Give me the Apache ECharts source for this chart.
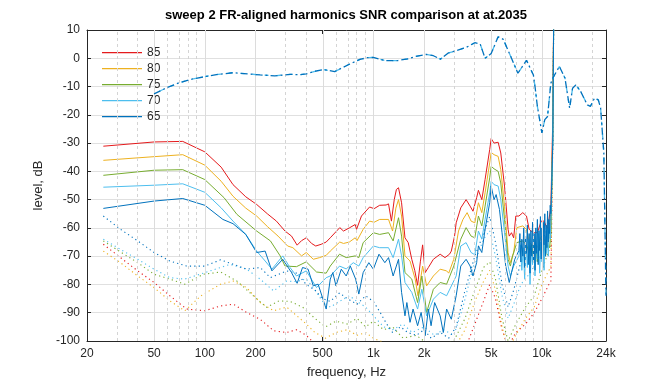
<!DOCTYPE html>
<html>
<head>
<meta charset="utf-8">
<script src="https://cdn.jsdelivr.net/npm/echarts@6/dist/echarts.min.js"></script>
<style>html,body{margin:0;padding:0;background:#fff}#c{width:672px;height:384px}</style>
</head>
<body>
<div id="c"></div>
<script>
// ---------- data (frequency in Hz, level in dB) ----------
const legendNames = ['85', '80', '75', '70', '65'];
const tickFreqs = [20, 50, 100, 200, 500, 1000, 2000, 5000, 10000, 24000];
const tickLabels = ['20', '50', '100', '200', '500', '1k', '2k', '5k', '10k', '24k'];
const majorGridFreqs = [50, 100, 200, 500, 1000, 2000, 5000, 10000];
const minorGridFreqs = [30, 40, 60, 70, 80, 90, 300, 400, 600, 700, 800, 900, 3000, 4000, 6000, 7000, 8000, 9000, 20000];

// frequency response (dash-dot)
const fr = [[50,-12.6],[60,-10.3],[71,-8.6],[85,-7.3],[100,-6.5],[120,-5.7],[147,-5.1],[180,-5.5],[213,-5.9],[260,-6.2],[320,-5.7],[366,-5.8],[400,-5.5],[450,-4.6],[504,-4.0],[590,-4.7],[710,-2.3],[832,-0.4],[920,0.2],[1000,0.3],[1080,-0.3],[1180,-0.8],[1400,-0.8],[1600,-0.2],[1770,0.6],[2070,1.4],[2270,0.9],[2500,-0.3],[2770,1.8],[3300,3.2],[3570,3.9],[4000,5.5],[4300,5.1],[4600,0],[5000,1.7],[5500,7.6],[5900,6.7],[6600,0],[7200,-5.3],[8100,-0.7],[8900,-5.9],[9100,-10],[9400,-17],[10000,-26.4],[10400,-21.7],[10800,-20.6],[11300,-8.8],[11600,-7],[12700,-2.9],[13700,-7],[14600,-17.6],[15200,-10.6],[15900,-9.4],[17000,-11.8],[18600,-16.5],[19400,-17],[20500,-14.1],[21600,-14.7],[22300,-17.6],[23300,-33.5],[24000,-84]];

// harmonics (solid)
const h85 = [[25,-31.1],[50,-29.6],[74,-29.4],[100,-33.1],[125,-38.5],[147,-44.7],[175,-49],[203,-51.7],[235,-55],[266,-57.6],[299,-61.1],[327,-62.9],[353,-66.1],[375,-64.5],[400,-63.5],[430,-65.5],[455,-66.4],[490,-65.8],[525,-65],[555,-63.5],[632,-59.9],[665,-61.1],[720,-60],[780,-58.8],[795,-60.5],[850,-55.8],[950,-52.6],[1010,-53.2],[1090,-52],[1190,-51.9],[1230,-51.5],[1280,-57.6],[1330,-50],[1370,-46.4],[1410,-45.8],[1470,-51.1],[1540,-63.5],[1610,-65.2],[1690,-71.1],[1760,-75],[1830,-80.3],[1900,-72],[1960,-66],[2030,-75.8],[2120,-74],[2270,-71.1],[2490,-69.3],[2660,-70.5],[2830,-69.3],[2900,-68.2],[3030,-63],[3100,-58.2],[3300,-52.9],[3550,-50],[3750,-52.3],[3900,-54.1],[4100,-49.3],[4200,-46.7],[4400,-50],[4600,-42.9],[4900,-32.3],[5000,-28.4],[5200,-30],[5500,-29.7],[5700,-33.5],[6000,-45.2],[6300,-60.5],[6400,-62.9],[6600,-61.7],[6800,-63.5],[7000,-55.8],[7300,-55.8],[7700,-54.6],[7900,-54.1],[8100,-55.8],[8400,-60.5],[8900,-61.7],[9400,-61.7],[9900,-57.6],[10300,-57.6],[10800,-60.5],[11300,-52.3],[11600,-21.7],[11800,30]];
const h80 = [[25,-36.1],[50,-34.8],[74,-34.1],[100,-37.8],[125,-43.5],[147,-48.8],[175,-53],[203,-55.8],[235,-59.5],[272,-62.9],[310,-66.4],[333,-67],[375,-69.9],[400,-68.7],[440,-71.1],[480,-70.5],[525,-69.7],[555,-68.2],[632,-65],[665,-65.5],[720,-65],[780,-63.5],[800,-64.5],[870,-60.5],[950,-57.6],[1010,-58],[1090,-57],[1230,-57],[1300,-61.1],[1360,-53],[1410,-50],[1470,-55.8],[1540,-69.9],[1650,-71.7],[1770,-78.1],[1840,-84],[1960,-73.5],[2070,-80.5],[2270,-77],[2490,-74.6],[2720,-75.2],[2800,-76],[3000,-71.1],[3200,-61.1],[3400,-57],[3600,-54.6],[3800,-57.6],[4000,-58.2],[4200,-51.1],[4400,-54.6],[4600,-47.6],[4900,-37],[5000,-33.3],[5200,-34.1],[5500,-34.7],[5700,-39.4],[6000,-52.3],[6300,-68.7],[6500,-72.3],[6800,-68.7],[7100,-59.9],[7700,-59.3],[8100,-60.5],[8400,-65.2],[8900,-66.4],[9400,-67],[9900,-63],[10300,-64],[10800,-66],[11300,-60],[11600,-25],[11800,30]];
const h75 = [[25,-41.4],[50,-39.6],[74,-39.4],[100,-42.9],[130,-49.3],[155,-55.2],[203,-61.1],[245,-64.6],[280,-69.9],[299,-73.5],[350,-73.7],[400,-72],[460,-75.6],[525,-76],[555,-73.5],[630,-69.3],[690,-70.5],[780,-69.9],[820,-70.5],[870,-65.2],[1000,-61.7],[1090,-62.3],[1230,-61.7],[1310,-64.6],[1410,-56.4],[1470,-62.9],[1540,-75.8],[1690,-78.1],[1830,-86.4],[1940,-77],[2070,-89.9],[2270,-81.7],[2490,-79.3],[2720,-79.9],[3000,-73.5],[3300,-64],[3550,-59.9],[3800,-62.9],[4000,-63.5],[4200,-55.8],[4400,-59.3],[4600,-52.3],[4900,-42.3],[5000,-38.2],[5200,-39.1],[5500,-40],[5700,-44.1],[6000,-57],[6300,-71.1],[6500,-73.5],[6700,-69.9],[7100,-65.2],[7700,-64.6],[8100,-66],[8400,-68.7],[8700,-66],[8900,-71],[9200,-67],[9400,-72],[9700,-66],[9900,-69],[10200,-65],[10500,-70],[10800,-66],[11100,-67],[11300,-62],[11600,-28],[11800,30]];
const h70 = [[25,-45.6],[50,-44.9],[74,-44.4],[100,-47.4],[125,-52.9],[147,-57.6],[175,-62.3],[203,-68.2],[228,-71.7],[250,-74.6],[290,-69.9],[320,-74],[350,-77],[400,-75.2],[460,-81.1],[525,-77.6],[555,-77],[630,-73.5],[690,-74.5],[760,-72.3],[820,-73.5],[870,-70.5],[1000,-66.4],[1090,-67],[1230,-67],[1310,-70.5],[1410,-64],[1470,-69.9],[1540,-79.3],[1690,-82.8],[1830,-88.7],[1940,-81.7],[2070,-91.1],[2270,-85.2],[2490,-82.8],[2720,-84],[3100,-77],[3300,-66.4],[3550,-65.2],[3800,-68.7],[4000,-69.5],[4200,-61.1],[4400,-64],[4600,-57],[4900,-47.6],[5000,-43.5],[5200,-44.7],[5500,-45.2],[5700,-50],[6000,-61.7],[6300,-73.5],[6500,-77],[6800,-73.5],[7300,-70],[7450,-66],[7600,-75],[7750,-67],[7900,-78],[8050,-66],[8200,-74],[8350,-64],[8500,-80],[8650,-68],[8800,-73],[8950,-63],[9100,-77],[9250,-66],[9400,-71],[9550,-62],[9700,-76],[9850,-65],[10000,-72],[10150,-61],[10300,-75],[10450,-63],[10600,-69],[10750,-60],[10900,-70],[11050,-60],[11200,-64],[11300,-58],[11600,-30],[11800,30]];
const h65 = [[25,-53.1],[50,-50.5],[74,-49.6],[100,-52],[128,-57],[147,-58.5],[175,-62.3],[203,-68.7],[228,-68.2],[250,-75.2],[290,-71.1],[327,-75.8],[353,-79.6],[380,-74],[410,-74.6],[440,-80.5],[470,-79.9],[525,-88.7],[555,-78.1],[575,-75.8],[600,-80.5],[645,-74.6],[690,-77],[730,-73.5],[785,-78.1],[820,-83.4],[870,-75.8],[940,-72.3],[1000,-74.6],[1080,-69.3],[1170,-72.3],[1230,-70.5],[1310,-77],[1410,-71.1],[1470,-82.8],[1540,-91.1],[1580,-86.4],[1650,-93.4],[1720,-88.7],[1830,-94.6],[1920,-89.9],[2030,-98.1],[2120,-88.7],[2200,-94.6],[2310,-86.4],[2490,-91.1],[2600,-97],[2720,-88.7],[2900,-92.3],[3100,-84],[3300,-73.5],[3550,-71.1],[3750,-73.5],[3900,-77],[4100,-72.3],[4200,-66.4],[4400,-68.7],[4600,-60.5],[4900,-51.1],[5000,-45.2],[5200,-50],[5350,-48.2],[5600,-53.5],[5800,-61.7],[6100,-73.5],[6400,-79.3],[6600,-75.8],[6900,-71.1],[7300,-68],[7400,-62],[7500,-72],[7600,-64],[7700,-70],[7800,-60],[7900,-74],[8000,-63],[8100,-69],[8200,-59],[8300,-73],[8400,-62],[8500,-76],[8600,-61],[8700,-70],[8800,-58],[8900,-72],[9000,-62],[9100,-75],[9200,-60],[9300,-69],[9400,-57],[9500,-73],[9600,-61],[9700,-68],[9800,-56],[9900,-71],[10000,-60],[10100,-74],[10200,-58],[10300,-66],[10400,-55],[10500,-70],[10600,-59],[10700,-67],[10800,-54],[10900,-65],[11000,-57],[11100,-62],[11200,-52],[11300,-55],[11600,-30],[11800,30]];

// noise floors (dotted)
const n85 = [[25,-65.8],[31.6,-70.5],[40,-75.2],[50,-79.3],[62,-84],[78,-88.7],[100,-89.3],[124,-87.6],[148,-87],[177,-89.9],[213,-92.3],[256,-96.4],[306,-97],[350,-96],[400,-98],[450,-101],[520,-103],[600,-101],[700,-103],[800,-100],[900,-102],[1000,-104],[1500,-105],[2000,-104],[3000,-103],[3600,-101],[4000,-94],[4500,-86],[4900,-80],[5300,-85],[5800,-96],[6300,-102],[7000,-97],[8000,-94],[9000,-90],[10000,-85],[11000,-80],[11300,-79],[11600,-30],[11800,30]];
const n80 = [[25,-68.2],[31.6,-72.3],[40,-77],[50,-81.1],[62,-85.8],[76,-89.3],[95,-84],[124,-79.9],[148,-78.8],[177,-81.1],[213,-86.4],[256,-89.3],[306,-88],[350,-91],[400,-94],[450,-97],[520,-99],[600,-97],[700,-96],[800,-98],[900,-97],[1000,-99],[1200,-101],[1500,-103],[2000,-104],[2500,-102],[3000,-103],[3500,-96],[4000,-86],[4500,-79],[4900,-75],[5300,-82],[5800,-95],[6300,-103],[7000,-98],[8000,-92],[9000,-88],[10000,-80],[11000,-75],[11300,-74],[11600,-30],[11800,30]];
const n75 = [[25,-64.6],[31.6,-68.5],[40,-72.3],[50,-76.4],[62,-78.1],[76,-79.9],[98,-76.4],[124,-75.6],[155,-78.8],[194,-84],[233,-88.1],[275,-85.8],[320,-86],[380,-88],[450,-92],[520,-95],[600,-93],[700,-94],[800,-92],[900,-95],[1000,-93],[1150,-96],[1300,-95],[1500,-99],[1800,-98],[2100,-101],[2500,-102],[3000,-100],[3500,-92],[4000,-82],[4500,-74],[4900,-72],[5300,-78],[5800,-92],[6300,-100],[7000,-94],[8000,-88],[9000,-84],[10000,-75],[11000,-68],[11300,-66],[11600,-30],[11800,30]];
const n70 = [[25,-64],[31.6,-67.6],[40,-71.1],[50,-74.6],[62,-77.6],[76,-78.1],[98,-76],[141,-72.9],[177,-74.6],[213,-78.1],[256,-82.3],[306,-78.8],[350,-79],[400,-78],[450,-82],[500,-86],[555,-88],[630,-86],[720,-84],[800,-86],[900,-88],[1000,-91],[1150,-95],[1300,-96],[1500,-94],[1700,-97],[2000,-95],[2300,-98],[2600,-96],[3000,-98],[3400,-88],[3900,-74],[4500,-64],[4900,-61],[5300,-70],[5800,-84],[6300,-92],[6900,-86],[7500,-80],[8500,-76],[9500,-71],[10500,-66],[11300,-62],[11600,-30],[11800,30]];
const n65 = [[25,-55.8],[31.6,-60.5],[40,-64.6],[50,-68.7],[62,-71.7],[78,-73.5],[100,-73.5],[124,-71.3],[148,-72.9],[177,-74.6],[213,-74],[245,-77.6],[306,-75.2],[350,-76],[400,-80],[450,-82],[500,-85],[555,-86],[630,-83],[700,-85],[800,-87],[900,-84],[1000,-86],[1100,-90],[1200,-94],[1300,-97],[1450,-95],[1600,-97],[1800,-98],[2000,-96],[2200,-99],[2500,-97],[2800,-99],[3100,-95],[3500,-82],[4000,-70],[4500,-62],[4900,-56],[5300,-65],[5800,-80],[6300,-88],[6800,-82],[7500,-72],[8500,-70],[9500,-66],[10500,-62],[11300,-57],[11600,-30],[11800,30]];

const colors = ['#e41a1c', '#edb120', '#77ac30', '#4dbeee', '#0072bd'];
const harmonics = [h85, h80, h75, h70, h65];
const noises = [n85, n80, n75, n70, n65];

// ---------- chart ----------
const lg = Math.log10;
const toXY = arr => arr.map(p => [lg(p[0]), p[1]]);
const tickVals = tickFreqs.map(lg);
const labelFor = v => {
  let best = 0;
  tickVals.forEach((t, i) => { if (Math.abs(t - v) < Math.abs(tickVals[best] - v)) best = i; });
  return tickLabels[best];
};
const FONT = '"Liberation Sans", Arial, Helvetica, sans-serif';
const TXT = '#262626';

const gridLines = [];
majorGridFreqs.forEach(f => gridLines.push({ xAxis: lg(f), lineStyle: { color: '#dcdcdc', width: 1, type: 'solid' } }));
minorGridFreqs.forEach(f => gridLines.push({ xAxis: lg(f), lineStyle: { color: '#d4d4d4', width: 1, type: [3, 3] } }));

const series = [];
series.push({
  name: 'grid', type: 'line', data: [], silent: true, z: 1,
  markLine: { silent: true, symbol: 'none', label: { show: false }, animation: false, data: gridLines }
});
noises.forEach((n, i) => series.push({
  name: 'noise' + legendNames[i], type: 'line', data: toXY(n), showSymbol: false, symbol: 'none', z: 3,
  lineStyle: { color: colors[i], width: 1.1, type: [1.2, 3.2] }
}));
harmonics.forEach((h, i) => series.push({
  name: legendNames[i], type: 'line', data: toXY(h), showSymbol: false, symbol: 'none', z: 4,
  lineStyle: { color: colors[i], width: 1 }, itemStyle: { color: colors[i] }
}));
series.push({
  name: 'fr_lb', type: 'line', data: toXY(fr), showSymbol: false, symbol: 'none', z: 5,
  lineStyle: { color: '#4dbeee', width: 1.3, type: [4, 8], dashOffset: 6 }
});
series.push({
  name: 'fr', type: 'line', data: toXY(fr), showSymbol: false, symbol: 'none', z: 6,
  lineStyle: { color: '#0072bd', width: 1.3, type: [7, 3, 2, 3] }
});

const axisCommonX = {
  type: 'value', min: lg(20), max: lg(24000),
  splitLine: { show: false },
  axisLine: { show: true, onZero: false, lineStyle: { color: TXT, width: 1 } },
  axisTick: { show: true, inside: true, length: 4, customValues: tickVals, lineStyle: { color: TXT } }
};
const axisCommonY = {
  type: 'value', min: -100, max: 10, interval: 10,
  axisLine: { show: true, onZero: false, lineStyle: { color: TXT, width: 1 } },
  axisTick: { show: true, inside: true, length: 4, lineStyle: { color: TXT } }
};

const option = {
  animation: false,
  backgroundColor: '#fff',
  textStyle: { fontFamily: FONT },
  grid: { left: 87, right: 66, top: 30, bottom: 42, containLabel: false },
  graphic: [{
    type: 'text', x: 346, y: 15, z: 10,
    style: { text: 'sweep 2 FR-aligned harmonics SNR comparison at at.2035', fill: '#000',
      font: 'bold 13px ' + FONT, align: 'center', verticalAlign: 'middle' }
  }],
  legend: {
    data: legendNames.map(n => ({ name: n, icon: 'rect' })),
    orient: 'vertical', left: 102, top: 46.7, padding: 0,
    itemWidth: 40, itemHeight: 1.2, itemGap: 4,
    textStyle: { color: TXT, fontSize: 12, fontFamily: FONT }, selectedMode: false
  },
  xAxis: [
    Object.assign({}, axisCommonX, {
      position: 'bottom',
      name: 'frequency, Hz', nameLocation: 'middle', nameGap: 25,
      nameTextStyle: { color: TXT, fontSize: 13, fontFamily: FONT },
      axisLabel: { show: true, customValues: tickVals, formatter: v => labelFor(v), color: TXT, fontSize: 12, margin: 7, fontFamily: FONT }
    }),
    Object.assign({}, axisCommonX, { position: 'top', axisLabel: { show: false } })
  ],
  yAxis: [
    Object.assign({}, axisCommonY, {
      position: 'left',
      name: 'level, dB', nameLocation: 'middle', nameGap: 38, nameRotate: 90,
      nameTextStyle: { color: TXT, fontSize: 13, fontFamily: FONT },
      axisLabel: { color: TXT, fontSize: 12, margin: 7, fontFamily: FONT },
      splitLine: { show: true, lineStyle: { color: '#e0e0e0', width: 1 } }
    }),
    Object.assign({}, axisCommonY, { position: 'right', axisLabel: { show: false }, splitLine: { show: false } })
  ],
  series: series
};

const chart = echarts.init(document.getElementById('c'), null, { renderer: 'canvas' });
chart.setOption(option);
</script>
</body>
</html>
